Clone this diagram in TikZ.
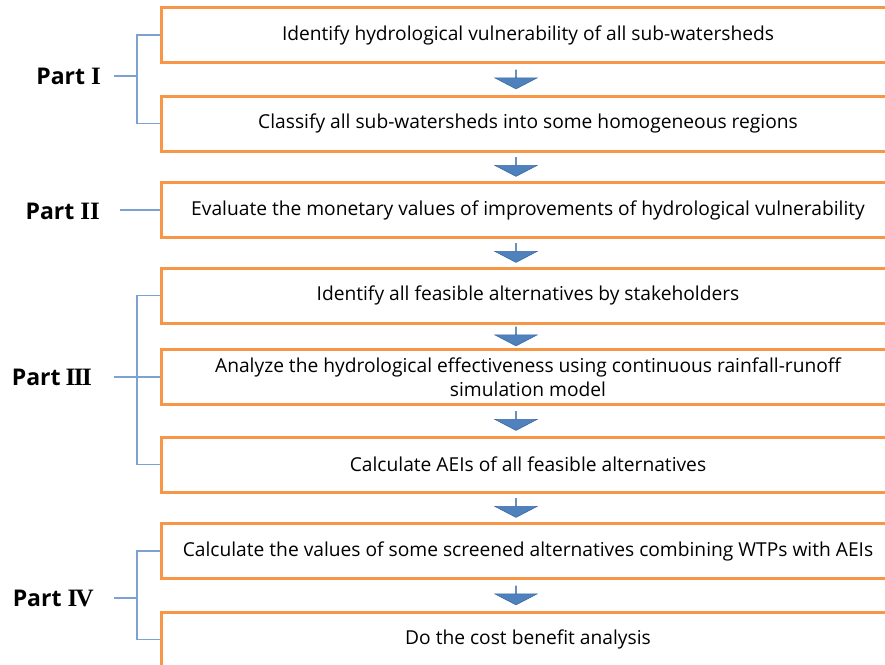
\documentclass[tikz,border=0pt]{standalone}
\usepackage{fontspec}
\setmainfont{Open Sans}
\newfontfamily\romanfont{Liberation Serif}
\usetikzlibrary{shapes.arrows,calc}

\definecolor{boxorange}{HTML}{F79646}
\definecolor{arrowblue}{HTML}{4F81BD}
\definecolor{arrowedge}{HTML}{3B6AA6}
\definecolor{bracketblue}{HTML}{7EA1D3}

\tikzset{
  stepbox/.style = {draw=boxorange, line width=3pt, minimum width=734pt,
    minimum height=55pt, align=center, inner sep=0pt,
    font=\fontsize{19.2}{24}\selectfont},
  flowarrow/.style = {shape=single arrow, rotate=-90, fill=arrowblue,
    draw=arrowedge, line width=0.6pt, inner sep=0pt, minimum height=19pt,
    minimum width=42pt, single arrow head extend=14pt,
    single arrow tip angle=125},
  partlabel/.style = {anchor=east, inner sep=0pt,
    font=\bfseries\fontsize{23}{26}\selectfont},
  bracket/.style = {draw=bracketblue, line width=1.1pt}
}
\newcommand\partnum[1]{{\romanfont\fontsize{25}{26}\selectfont #1}}

\begin{document}
\begin{tikzpicture}[x=1pt, y=-1pt]
  \useasboundingbox (0,0) rectangle (885,664);
  \clip (0,0) rectangle (885,664);

  % steps
  \node[stepbox] (ident)  at (528,35)    {Identify hydrological vulnerability of all sub-watersheds};
  \node[stepbox] (classy) at (528,123.5) {Classify all sub-watersheds into some homogeneous regions};
  \node[stepbox] (evalu)  at (528,210)   {Evaluate the monetary values of improvements of hydrological vulnerability};
  \node[stepbox] (feas)   at (528,295.5) {Identify all feasible alternatives by stakeholders};
  \node[stepbox] (anal)   at (528,377)   {Analyze the hydrological effectiveness using continuous rainfall-runoff\\simulation model};
  \node[stepbox] (aeis)   at (528,464.5) {Calculate AEIs of all feasible alternatives};
  \node[stepbox] (screen) at (528,551)   {Calculate the values of some screened alternatives combining WTPs with AEIs};
  \node[stepbox] (cba)    at (528,639.5) {Do the cost benefit analysis};

  % block arrows between steps
  \foreach \a/\b in {ident/classy, classy/evalu, evalu/feas, feas/anal,
                     anal/aeis, aeis/screen, screen/cba}
    \node[flowarrow] at ($(\a.south)!0.5!(\b.north) + (-12,0)$) {};

  % part labels
  \node[partlabel] (partI)   at (101,76)  {Part \partnum{I}};
  \node[partlabel] (partII)  at (100,211) {Part \partnum{II}};
  \node[partlabel] (partIII) at (92,377)  {Part \partnum{\kern-1pt I\kern-1.5pt I\kern-1.5pt I}};
  \node[partlabel] (partIV)  at (94,598)  {Part \partnum{I\kern-1.5pt V}};

  % brackets
  \coordinate (jI)   at (137,76);
  \coordinate (jIII) at (137,377);
  \coordinate (jIV)  at (137,598);

  \draw[bracket] (ident.west) -| (jI) |- (classy.west);
  \draw[bracket] ([xshift=13pt]partI.east) -- (jI);

  \draw[bracket] ([xshift=20pt]partII.east |- evalu.west) -- (evalu.west);

  \draw[bracket] (feas.west) -| (jIII) |- (aeis.west);
  \draw[bracket] (jIII) -- (anal.west);
  \draw[bracket] ([xshift=22pt]partIII.east) -- (jIII);

  \draw[bracket] (screen.west) -| (jIV) |- (cba.west);
  \draw[bracket] ([xshift=20pt]partIV.east) -- (jIV);
\end{tikzpicture}
\end{document}
